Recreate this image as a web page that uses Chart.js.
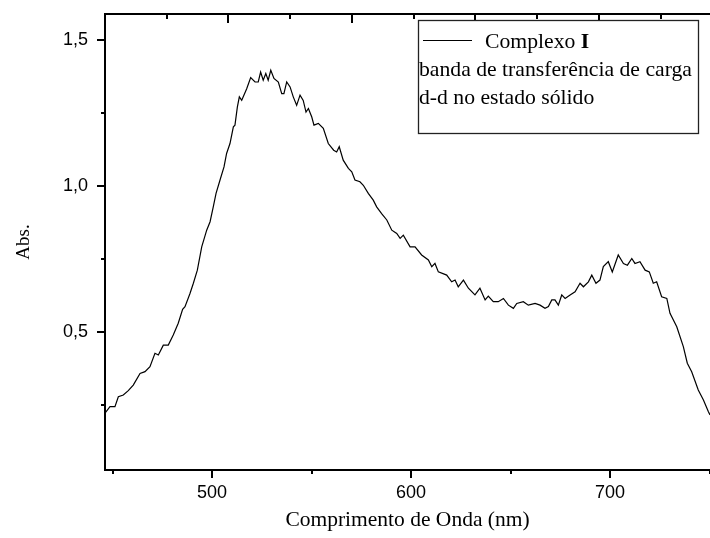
<!DOCTYPE html>
<html>
<head>
<meta charset="utf-8">
<script src="https://cdn.jsdelivr.net/npm/chart.js@4"></script>
<style>
  body { margin: 0; background: #fff; }
  #wrap { width: 710px; height: 538px; }
</style>
</head>
<body>
<div id="wrap"><canvas id="spectrum" width="710" height="538"></canvas></div>
<script>
// spectrum (nm, absorbance)
const wavelength = [
  446.2, 448.7, 451.2, 452.9, 455.4, 457.9, 460.4, 463.8, 466.3, 468.8,
  471.3, 473.0, 475.5, 478.0, 480.5, 483.0, 485.2, 486.4, 488.9, 490.6,
  492.6, 494.8, 497.3, 499.0, 500.6, 502.0, 504.0, 506.0, 507.3, 509.0,
  510.7, 511.5, 512.7, 513.7, 514.9, 517.4, 519.4, 521.6, 523.2, 524.4,
  525.7, 527.0, 528.2, 529.5, 531.1, 533.3, 535.0, 536.1, 537.5, 539.2,
  540.8, 542.5, 544.2, 545.8, 547.2, 548.4, 550.1, 551.2, 553.4, 555.9,
  558.4, 561.1, 562.6, 563.9, 565.9, 568.5, 570.2, 571.8, 574.3, 576.0,
  578.5, 581.0, 582.7, 585.2, 587.8, 590.3, 592.8, 594.5, 596.1, 599.5,
  602.0, 605.3, 608.7, 610.4, 612.0, 613.7, 617.9, 620.4, 622.1, 623.7,
  626.3, 628.8, 632.1, 634.6, 637.2, 638.8, 641.3, 643.8, 646.4, 648.9,
  651.4, 653.1, 656.4, 658.9, 662.3, 664.8, 667.3, 669.0, 670.7, 672.3,
  674.0, 675.7, 677.4, 679.9, 682.4, 684.9, 686.6, 689.1, 690.8, 692.9,
  694.9, 696.6, 699.1, 701.1, 704.1, 706.7, 708.7, 710.9, 712.5, 715.0,
  717.6, 719.7, 721.7, 723.4, 725.9, 728.5, 730.1, 733.5, 736.8, 738.8,
  741.0, 744.3, 746.9, 749.4, 750.2
];
const absorbance = [
  0.221, 0.243, 0.243, 0.277, 0.283, 0.298, 0.317, 0.357, 0.363, 0.380,
  0.426, 0.420, 0.454, 0.454, 0.489, 0.529, 0.577, 0.586, 0.631, 0.666,
  0.711, 0.791, 0.848, 0.877, 0.928, 0.974, 1.020, 1.065, 1.111, 1.145,
  1.202, 1.208, 1.270, 1.305, 1.293, 1.333, 1.371, 1.356, 1.356, 1.390,
  1.362, 1.385, 1.362, 1.396, 1.368, 1.356, 1.316, 1.316, 1.356, 1.339,
  1.305, 1.276, 1.311, 1.293, 1.253, 1.265, 1.236, 1.208, 1.214, 1.197,
  1.145, 1.122, 1.116, 1.134, 1.088, 1.060, 1.048, 1.020, 1.014, 1.002,
  0.974, 0.951, 0.928, 0.905, 0.883, 0.848, 0.837, 0.820, 0.831, 0.791,
  0.791, 0.763, 0.746, 0.723, 0.734, 0.705, 0.694, 0.671, 0.677, 0.654,
  0.677, 0.649, 0.626, 0.649, 0.609, 0.622, 0.603, 0.603, 0.614, 0.591,
  0.580, 0.597, 0.603, 0.591, 0.597, 0.591, 0.580, 0.586, 0.609, 0.609,
  0.591, 0.626, 0.614, 0.626, 0.637, 0.666, 0.654, 0.671, 0.694, 0.666,
  0.677, 0.723, 0.740, 0.705, 0.763, 0.734, 0.728, 0.751, 0.734, 0.740,
  0.711, 0.705, 0.666, 0.671, 0.620, 0.614, 0.563, 0.517, 0.449, 0.392,
  0.363, 0.300, 0.266, 0.226, 0.215
];

const xMajorTicks = [500, 600, 700];
const xMinorTicks = [450, 550, 650, 750];
const yMajorTicks = [0.5, 1.0, 1.5];
const yMinorTicks = [0.25, 0.75, 1.25];
const yTickLabels = ['0,5', '1,0', '1,5'];
// top frame axis has no labels, only marks
const topMajorTicks = [0, 1, 2, 3, 4];
const topMinorTicks = [0.5, 1.5, 2.5, 3.5, 4.5];

const seriesName = 'Complexo ';
const seriesNameBold = 'I';
const legendNotes = ['banda de transferência de carga', 'd-d no estado sólido'];

const sans = "'Liberation Sans', Arial, sans-serif";
const serif = "'Liberation Serif', 'Times New Roman', serif";

// draws the major/minor tick marks of the three axes
const tickMarks = {
  id: 'tickMarks',
  afterDraw(chart) {
    const {ctx, chartArea, scales} = chart;
    ctx.save();
    ctx.strokeStyle = '#000';
    ctx.lineWidth = 2;
    const mark = (scale, values, len) => {
      values.forEach(v => {
        const p = Math.round(scale.getPixelForValue(v));
        ctx.beginPath();
        if (scale.id === 'y') {
          ctx.moveTo(chartArea.left, p);
          ctx.lineTo(chartArea.left - len, p);
        } else if (scale.id === 'x') {
          ctx.moveTo(p, chartArea.bottom);
          ctx.lineTo(p, chartArea.bottom + len);
        } else {
          ctx.moveTo(p, chartArea.top);
          ctx.lineTo(p, chartArea.top + len);
        }
        ctx.stroke();
      });
    };
    mark(scales.y, yMajorTicks, 8);
    mark(scales.y, yMinorTicks, 4);
    mark(scales.x, xMajorTicks, 8);
    mark(scales.x, xMinorTicks, 4);
    mark(scales.x2, topMajorTicks, 9);
    mark(scales.x2, topMinorTicks, 5);
    ctx.restore();
  }
};

// boxed legend like the original (one entry + two note lines)
const boxLegend = {
  id: 'boxLegend',
  afterDraw(chart) {
    const ctx = chart.ctx;
    const ds = chart.data.datasets[0];
    const left = 418, top = 20, w = 280, h = 113;
    ctx.save();
    ctx.fillStyle = '#fff';
    ctx.fillRect(left, top, w, h);
    ctx.strokeStyle = '#222';
    ctx.lineWidth = 1.3;
    ctx.strokeRect(left + 0.5, top + 0.5, w, h);

    ctx.strokeStyle = ds.borderColor;
    ctx.lineWidth = 1.2;
    ctx.beginPath();
    ctx.moveTo(423, 40.5);
    ctx.lineTo(472, 40.5);
    ctx.stroke();

    ctx.fillStyle = '#000';
    ctx.textBaseline = 'alphabetic';
    ctx.font = '21.7px ' + serif;
    ctx.fillText(seriesName, 485, 48);
    const wName = ctx.measureText(seriesName).width;
    ctx.font = 'bold 21.7px ' + serif;
    ctx.fillText(seriesNameBold, 485 + wName, 48);
    ctx.font = '21.7px ' + serif;
    legendNotes.forEach((t, i) => ctx.fillText(t, 419, 76 + i * 28));
    ctx.restore();
  }
};

new Chart(document.getElementById('spectrum'), {
  type: 'line',
  data: {
    datasets: [{
      label: seriesName + seriesNameBold,
      data: wavelength.map((x, i) => ({x: x, y: absorbance[i]})),
      borderColor: '#000',
      borderWidth: 1.2,
      pointRadius: 0,
      tension: 0,
      xAxisID: 'x',
      yAxisID: 'y'
    }]
  },
  options: {
    responsive: false,
    devicePixelRatio: 1,
    animation: false,
    layout: { padding: 0 },
    plugins: {
      legend: { display: false },
      tooltip: { enabled: false }
    },
    scales: {
      x: {
        type: 'linear',
        position: 'bottom',
        min: 446.2,
        max: 750.2,
        afterBuildTicks: s => { s.ticks = xMajorTicks.map(v => ({value: v})); },
        afterFit: s => { s.height = 68; },
        grid: { display: false, drawTicks: false },
        border: { display: true, color: '#000', width: 2 },
        ticks: {
          padding: 12,
          color: '#000',
          font: { family: sans, size: 18 },
          callback: v => String(v)
        },
        title: {
          display: true,
          text: 'Comprimento de Onda (nm)',
          color: '#000',
          font: { family: serif, size: 21.5 },
          padding: { top: 0, bottom: 5 }
        }
      },
      x2: {
        type: 'linear',
        position: 'top',
        min: 0,
        max: 4.9,
        afterFit: s => { s.height = 14; },
        grid: { display: false, drawTicks: false },
        border: { display: true, color: '#000', width: 2 },
        ticks: { display: false }
      },
      y: {
        type: 'linear',
        position: 'left',
        min: 0.026,
        max: 1.589,
        afterBuildTicks: s => { s.ticks = yMajorTicks.map(v => ({value: v})); },
        afterFit: s => { s.width = 105; },
        // invisible tick space so the labels sit left of the drawn marks
        grid: { display: true, color: 'rgba(0,0,0,0)', drawOnChartArea: false, drawTicks: true, tickLength: 15 },
        border: { display: true, color: '#000', width: 2 },
        ticks: {
          padding: 2,
          color: '#000',
          font: { family: sans, size: 18 },
          callback: (v, i) => yTickLabels[i]
        },
        title: {
          display: true,
          text: 'Abs.',
          color: '#000',
          font: { family: serif, size: 19 },
          padding: { top: 13, bottom: 0 }
        }
      }
    }
  },
  plugins: [tickMarks, boxLegend]
});
</script>
</body>
</html>
